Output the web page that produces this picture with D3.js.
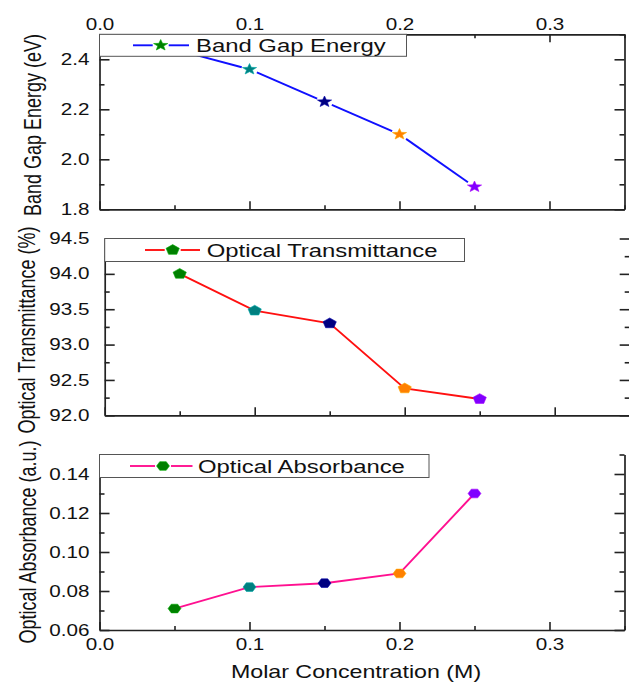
<!DOCTYPE html>
<html><head><meta charset="utf-8">
<script src="https://cdn.jsdelivr.net/npm/d3@7"></script>
<style>html,body{margin:0;padding:0;background:#fff;}</style>
</head><body>
<script>
// ---------- data ----------
const concentration = [0.05, 0.10, 0.15, 0.20, 0.25];
const bandGap = [2.44, 2.36, 2.23, 2.10, 1.89];
const transmittance = [94.0, 93.48, 93.30, 92.38, 92.23];
const absorbance = [0.071, 0.082, 0.084, 0.089, 0.130];
const pointColors = ["#008000", "#008080", "#000080", "#ff8000", "#8000ff"];
const xTicks = [0.0, 0.1, 0.2, 0.3];
const xMinor = [0.05, 0.15, 0.25, 0.35];
const bandGapTicks = [1.8, 2.0, 2.2, 2.4];
const bandGapMinor = [1.9, 2.1, 2.3, 2.5];
const transTicks = [92.0, 92.5, 93.0, 93.5, 94.0, 94.5];
const transMinor = [92.25, 92.75, 93.25, 93.75, 94.25];
const absTicks = [0.06, 0.08, 0.10, 0.12, 0.14];
const absMinor = [0.07, 0.09, 0.11, 0.13, 0.15];

// ---------- setup ----------
const W = 629, H = 683;
const SX = 1.29; // horizontal stretch of the original picture
const FONT = "'Liberation Sans', Arial, Helvetica, sans-serif";
const svg = d3.select("body").append("svg").attr("width", W).attr("height", H)
  .style("font-family", FONT);

function stretchText(sel) {
  sel.each(function () {
    const t = d3.select(this);
    const x = +t.attr("x") || 0;
    t.attr("x", x / SX).attr("transform", `scale(${SX},1)`);
  });
}
function label(g, x, y, str, size, anchor, rotate) {
  return g.append("text")
    .attr("transform", `translate(${x},${y}) scale(${SX},1)` + (rotate ? " rotate(-90)" : ""))
    .attr("text-anchor", anchor || "start")
    .style("font-size", size + "px").attr("fill", "#111").text(str);
}

// marker shapes
function starPath(r) {
  const pts = [];
  for (let i = 0; i < 10; i++) {
    const rr = i % 2 === 0 ? r : r * 0.42;
    const a = -Math.PI / 2 + i * Math.PI / 5;
    pts.push([rr * Math.cos(a) * SX, rr * Math.sin(a)]);
  }
  return "M" + pts.map(p => p.join(",")).join("L") + "Z";
}
function polyPath(n, r, rot) {
  const pts = [];
  for (let i = 0; i < n; i++) {
    const a = rot + i * 2 * Math.PI / n;
    pts.push([r * Math.cos(a) * SX, r * Math.sin(a)]);
  }
  return "M" + pts.map(p => p.join(",")).join("L") + "Z";
}
const shapes = {
  star: starPath(5.8),
  pentagon: polyPath(5, 5.4, -Math.PI / 2),
  hexagon: polyPath(6, 5.0, 0)
};

const AXIS_COLOR = "#222";

function drawPanel(cfg) {
  const g = svg.append("g");
  const x = d3.scaleLinear().domain([0, 0.35]).range(cfg.xRange);
  const y = d3.scaleLinear().domain(cfg.yDomain).range(cfg.yRange);
  const [x0, x1] = cfg.xRange;
  const [yb, yt] = cfg.yRange;

  // data line
  const pts = concentration.map((c, i) => [x(c), y(cfg.values[i])]);
  if (cfg.gap) {
    for (let i = 0; i < pts.length - 1; i++) {
      const [ax, ay] = pts[i], [bx, by] = pts[i + 1];
      const L = Math.hypot(bx - ax, by - ay);
      const ux = (bx - ax) / L, uy = (by - ay) / L;
      g.append("line")
        .attr("x1", ax + ux * cfg.gap).attr("y1", ay + uy * cfg.gap)
        .attr("x2", bx - ux * cfg.gap).attr("y2", by - uy * cfg.gap)
        .attr("stroke", cfg.lineColor).attr("stroke-width", 1.9);
    }
  } else {
    g.append("path").datum(pts).attr("d", d3.line())
      .attr("fill", "none").attr("stroke", cfg.lineColor).attr("stroke-width", 1.9);
  }
  g.selectAll("path.mk").data(pts).join("path").attr("class", "mk")
    .attr("d", shapes[cfg.shape])
    .attr("transform", d => `translate(${d[0]},${d[1]})`)
    .attr("fill", (d, i) => pointColors[i])
    .attr("stroke", (d, i) => d3.color(pointColors[i]).brighter(0.8))
    .attr("stroke-width", 0.6);

  // axes
  const styleAxis = (a) => {
    a.selectAll("path.domain").attr("stroke", AXIS_COLOR).attr("stroke-width", 1.7);
    a.selectAll(".tick line").attr("stroke", AXIS_COLOR).attr("stroke-width", 1.6);
    a.selectAll(".tick text").attr("fill", "#111").style("font-size", "16px").style("font-family", FONT);
  };
  // left
  const left = g.append("g").attr("transform", `translate(${x0},0)`)
    .call(d3.axisLeft(y).tickValues(cfg.yTicks).tickFormat(cfg.yFmt).tickSizeInner(-10).tickSizeOuter(0).tickPadding(x0 - 89.5));
  styleAxis(left); stretchText(left.selectAll(".tick text"));
  const leftMinor = g.append("g").attr("transform", `translate(${x0},0)`)
    .call(d3.axisLeft(y).tickValues(cfg.yMinor).tickFormat("").tickSizeInner(-5).tickSizeOuter(0));
  leftMinor.select("path.domain").remove(); styleAxis(leftMinor);
  // right
  const right = g.append("g").attr("transform", `translate(${x1},0)`)
    .call(d3.axisRight(y).tickValues(cfg.yTicks).tickFormat("").tickSizeInner(-10).tickSizeOuter(0));
  styleAxis(right);
  const rightMinor = g.append("g").attr("transform", `translate(${x1},0)`)
    .call(d3.axisRight(y).tickValues(cfg.yMinor).tickFormat("").tickSizeInner(-5).tickSizeOuter(0));
  rightMinor.select("path.domain").remove(); styleAxis(rightMinor);
  // bottom
  const bottom = g.append("g").attr("transform", `translate(0,${yb})`)
    .call(d3.axisBottom(x).tickValues(xTicks).tickFormat(cfg.bottomLabels ? d3.format(".1f") : "")
      .tickSizeInner(-8).tickSizeOuter(0).tickPadding(8));
  styleAxis(bottom);
  if (cfg.bottomLabels) { bottom.selectAll(".tick text").attr("dy", "0.71em").attr("y", 8.5); stretchText(bottom.selectAll(".tick text")); }
  const bottomMinor = g.append("g").attr("transform", `translate(0,${yb})`)
    .call(d3.axisBottom(x).tickValues(xMinor).tickFormat("").tickSizeInner(-4).tickSizeOuter(0));
  bottomMinor.select("path.domain").remove(); styleAxis(bottomMinor);
  // top
  if (cfg.topAxis) {
    const top = g.append("g").attr("transform", `translate(0,${yt})`)
      .call(d3.axisTop(x).tickValues(xTicks).tickFormat(d3.format(".1f")).tickSizeInner(-8).tickSizeOuter(0).tickPadding(4.5));
    styleAxis(top); stretchText(top.selectAll(".tick text"));
    const topMinor = g.append("g").attr("transform", `translate(0,${yt})`)
      .call(d3.axisTop(x).tickValues(xMinor).tickFormat("").tickSizeInner(-4).tickSizeOuter(0));
    topMinor.select("path.domain").remove(); styleAxis(topMinor);
  }

  // legend
  const L = cfg.legend;
  g.append("rect").attr("x", x0).attr("y", L.top).attr("width", L.right - x0).attr("height", L.h)
    .attr("fill", "#fff").attr("stroke", "#555").attr("stroke-width", 1);
  const ly = L.top + L.h / 2;
  g.append("line").attr("x1", L.l1).attr("x2", L.mx - 8).attr("y1", ly).attr("y2", ly)
    .attr("stroke", cfg.lineColor).attr("stroke-width", 1.9);
  g.append("line").attr("x1", L.mx + 8).attr("x2", L.l2).attr("y1", ly).attr("y2", ly)
    .attr("stroke", cfg.lineColor).attr("stroke-width", 1.9);
  g.append("path").attr("d", shapes[cfg.shape]).attr("transform", `translate(${L.mx},${ly})`)
    .attr("fill", pointColors[0]).attr("stroke", d3.color(pointColors[0]).brighter(0.8)).attr("stroke-width", 0.6);
  label(g, L.tx, ly + 6.5, cfg.name, 18.5, "start");

  // y title
  label(g, cfg.titleX, cfg.titleY, cfg.title, 18, "middle", true);
  return g;
}

drawPanel({
  values: bandGap, name: "Band Gap Energy", title: "Band Gap Energy (eV)",
  lineColor: "#1010ff", shape: "star", gap: 8,
  xRange: [99.5, 624.5], yDomain: [1.8, 2.5], yRange: [209.3, 34.3],
  yTicks: bandGapTicks, yMinor: bandGapMinor, yFmt: d3.format(".1f"),
  topAxis: true, bottomLabels: false,
  legend: { top: 34.3, h: 22, right: 406.5, l1: 133, l2: 189, mx: 160.7, tx: 196 },
  titleX: 40.5, titleY: 125
});
drawPanel({
  values: transmittance, name: "Optical Transmittance", title: "Optical Transmittance (%)",
  lineColor: "#ff1010", shape: "pentagon", gap: 0,
  xRange: [104.7, 629.7], yDomain: [92, 94.5], yRange: [415.3, 238.5],
  yTicks: transTicks, yMinor: transMinor, yFmt: d3.format(".1f"),
  topAxis: false, bottomLabels: false,
  legend: { top: 238.5, h: 23, right: 464.5, l1: 145, l2: 200, mx: 172.7, tx: 206.7 },
  titleX: 35, titleY: 330
});
drawPanel({
  values: absorbance, name: "Optical Absorbance", title: "Optical Absorbance (a.u.)",
  lineColor: "#ff1090", shape: "hexagon", gap: 0,
  xRange: [99.5, 624.5], yDomain: [0.06, 0.15], yRange: [630, 454.5],
  yTicks: absTicks, yMinor: absMinor, yFmt: d3.format(".2f"),
  topAxis: false, bottomLabels: true,
  legend: { top: 454.5, h: 23, right: 429, l1: 130, l2: 192.5, mx: 163, tx: 198 },
  titleX: 36, titleY: 542
});
label(svg, 356, 678, "Molar Concentration (M)", 18, "middle");
</script>
</body></html>
